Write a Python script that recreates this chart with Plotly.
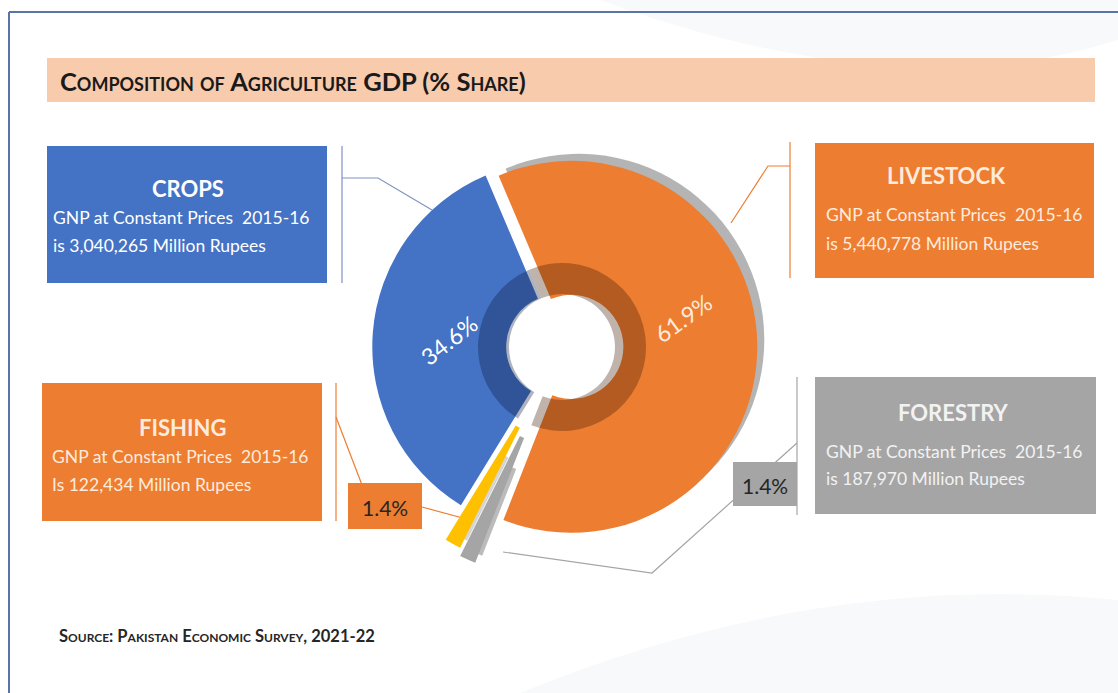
import plotly.graph_objects as go

W, H = 1118, 693

# ---------------- data ----------------
sectors = ["Livestock", "Forestry", "Fishing", "Crops"]
shares = [61.9, 1.4, 1.4, 34.6]
share_labels = ["61.9%", "1.4%", "1.4%", "34.6%"]
box_titles = ["LIVESTOCK", "FORESTRY", "FISHING", "CROPS"]
gnp_million_rupees = ["5,440,778", "187,970", "122,434", "3,040,265"]
base_year = "2015-16"
chart_title = "Composition of Agriculture GDP (% Share)"
source_text = "Source: Pakistan Economic Survey, 2021-22"

# ---------------- styles ----------------
colors = ["#ED7D31", "#A5A5A5", "#FFC000", "#4472C4"]
pulls = [0.05, 0.25, 0.21, 0.02]
ROT = -23
FONT = "Lato"


def px(x):
    return x / W


def py(y):
    return 1 - y / H


def dom(cx, cy, half):
    return dict(x=[px(cx - half), px(cx + half)], y=[py(cy + half), py(cy - half)])


cx, cy, R = 562, 347, 186
half = R * (1 + max(pulls))

fig = go.Figure()

# shadow behind the donut
fig.add_trace(go.Pie(
    labels=sectors, values=shares, sort=False, direction="clockwise", rotation=ROT,
    hole=0.5, pull=pulls, domain=dom(cx + 7, cy - 7, half),
    marker=dict(colors=["rgba(130,130,130,0.6)", "rgba(120,120,120,0.5)",
                        "rgba(150,150,150,0.4)", "rgba(0,0,0,0)"]),
    textinfo="none", hoverinfo="skip", showlegend=False,
))

# main donut
fig.add_trace(go.Pie(
    labels=sectors, values=shares, sort=False, direction="clockwise", rotation=ROT,
    hole=0.28, pull=pulls, domain=dom(cx, cy, half),
    marker=dict(colors=colors, line=dict(color="white", width=0)),
    textinfo="none", showlegend=False,
))

# inner dark ring (shading)
ring_R = 84
fig.add_trace(go.Pie(
    labels=sectors, values=shares, sort=False, direction="clockwise", rotation=ROT,
    hole=53 / ring_R, domain=dom(cx, cy, ring_R),
    marker=dict(colors=["rgba(60,25,0,0.33)", "rgba(0,0,0,0)", "rgba(0,0,0,0)",
                        "rgba(10,25,60,0.33)"]),
    textinfo="none", hoverinfo="skip", showlegend=False,
))

shapes = []

# background swooshes (very faint)
shapes.append(dict(type="path", xref="paper", yref="paper", layer="below",
                   path=f"M {px(600)},{py(0)} Q {px(900)},{py(110)} {px(1118)},{py(40)} "
                        f"L {px(1118)},{py(0)} Z",
                   fillcolor="#F5F6F8", line=dict(width=0), opacity=0.7))
shapes.append(dict(type="path", xref="paper", yref="paper", layer="below",
                   path=f"M {px(520)},{py(693)} Q {px(820)},{py(570)} {px(1118)},{py(600)} "
                        f"L {px(1118)},{py(693)} Z",
                   fillcolor="#F5F6F8", line=dict(width=0), opacity=0.7))

# frame
shapes.append(dict(type="line", xref="paper", yref="paper", x0=px(9), x1=px(1118),
                   y0=py(12), y1=py(12), line=dict(color="#5B74A8", width=2)))
shapes.append(dict(type="line", xref="paper", yref="paper", x0=px(9), x1=px(9),
                   y0=py(12), y1=py(693), line=dict(color="#5B74A8", width=2)))

# title bar
shapes.append(dict(type="rect", xref="paper", yref="paper", layer="below",
                   x0=px(47), x1=px(1095), y0=py(102), y1=py(58),
                   fillcolor="#F8CBAD", line=dict(width=0)))

# callout boxes: (x0, y0, x1, y1, fill)
boxes = {
    "Livestock": (815, 143, 1094, 278, "#ED7D31"),
    "Forestry": (815, 377, 1096, 514, "#A5A5A5"),
    "Fishing": (42, 383, 322, 521, "#ED7D31"),
    "Crops": (47, 146, 327, 283, "#4472C4"),
}
for k, (x0, y0, x1, y1, fc) in boxes.items():
    shapes.append(dict(type="rect", xref="paper", yref="paper", layer="below",
                       x0=px(x0), x1=px(x1), y0=py(y1), y1=py(y0),
                       fillcolor=fc, line=dict(width=0)))

# leader lines
leaders = [
    ([(342, 146), (342, 283)], "#7F93BF"),
    ([(342, 178), (378, 178), (432, 210)], "#7F93BF"),
    ([(790, 142), (790, 278)], "#ED7D31"),
    ([(790, 166), (768, 166), (731, 223)], "#ED7D31"),
    ([(336, 383), (336, 521)], "#ED7D31"),
    ([(336, 417), (362, 485)], "#ED7D31"),
    ([(422, 507), (470, 520)], "#ED7D31"),
    ([(797, 377), (797, 515)], "#A5A5A5"),
    ([(797, 443), (652, 573), (503, 552)], "#A5A5A5"),
]
for pts, col in leaders:
    path = "M " + " L ".join(f"{px(a)},{py(b)}" for a, b in pts)
    shapes.append(dict(type="path", xref="paper", yref="paper", layer="below",
                       path=path, line=dict(color=col, width=1.2)))

annotations = []


def ann(text, x, y, size, color, xanchor="center", angle=0, bold=False, variant=None,
        family=FONT):
    f = dict(family=family, size=size, color=color)
    if bold:
        f["weight"] = "bold"
    if variant:
        f["variant"] = variant
    annotations.append(dict(text=text, x=px(x), y=py(y), xref="paper", yref="paper",
                            showarrow=False, xanchor=xanchor, yanchor="middle",
                            font=f, textangle=angle))


# title and source
ann(chart_title, 58, 81, 25.5, "#1A1A1A", xanchor="left", bold=True, variant="small-caps")
ann(source_text, 57, 636, 16.5, "#262626", xanchor="left", bold=True, variant="small-caps")

# callout texts: (title center x, title y, text left x, line1 y, line2 y, color)
text_pos = {
    "Livestock": (946, 175, 824, 215, 243, "#FDEBDD"),
    "Forestry": (953, 413, 824, 451, 478, "#F2F2F2"),
    "Fishing": (182, 427, 50, 456, 484, "#FDEBDD"),
    "Crops": (188, 188, 51, 218, 246, "#FFFFFF"),
}
for i, s in enumerate(sectors):
    tx, ty, lx, l1, l2, col = text_pos[s]
    ann(box_titles[i], tx, ty, 22, col, bold=True)
    ann(f"GNP at Constant Prices&nbsp;&nbsp;{base_year}", lx, l1, 17.5, col, xanchor="left")
    prefix = "Is" if s == "Fishing" else "is"
    ann(f"{prefix} {gnp_million_rupees[i]} Million Rupees", lx, l2, 17.5, col, xanchor="left")

# percentage labels on the donut
ann(share_labels[3], 449, 340, 23, "#FFFFFF", angle=-38)
ann(share_labels[0], 683, 318, 23, "#FDEBDD", angle=-36)

# small 1.4% label boxes
label_boxes = {"Fishing": (348, 483, 422, 529, "#ED7D31"),
               "Forestry": (733, 462, 797, 506, "#A5A5A5")}
for s, (x0, y0, x1, y1, fc) in label_boxes.items():
    shapes.append(dict(type="rect", xref="paper", yref="paper", layer="above",
                       x0=px(x0), x1=px(x1), y0=py(y1), y1=py(y0),
                       fillcolor=fc, line=dict(width=0)))
    i = sectors.index(s)
    ann(share_labels[i], (x0 + x1) / 2, (y0 + y1) / 2 + 1, 21, "#262626")

fig.update_layout(
    width=W, height=H, margin=dict(l=0, r=0, t=0, b=0),
    paper_bgcolor="white", plot_bgcolor="white",
    shapes=shapes, annotations=annotations, showlegend=False,
    font=dict(family=FONT),
)

fig.write_html("out.html", config={"displayModeBar": False},
               post_script="document.body.style.margin='0';document.body.style.padding='0';")
